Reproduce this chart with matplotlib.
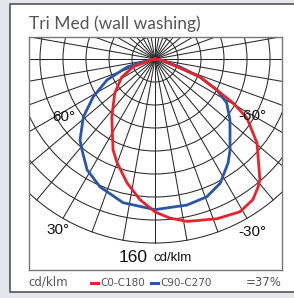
import numpy as np
import matplotlib
matplotlib.use("Agg")
import matplotlib.pyplot as plt
from matplotlib.patches import Circle, Rectangle

# ---- data (angle in degrees: positive = left side, negative = right side; value in cd/klm)
red_angles = [-90, -80, -71.6, -68.2, -63.4, -60.6, -57.3, -50.5, -41, -38.8, -34.8, -29.1,
              -21.2, -11.2, -5.4, 0, 6.1, 12.7, 20.1, 24.8, 36.6, 49.6, 61.4, 70, 72, 90]
red_values = [0, 7, 16.5, 42, 60, 78, 95, 115, 139, 143, 149, 152,
              149, 144, 139, 133, 123, 110.5, 96, 87, 63, 46, 33, 20, 7, 0]

blue_angles = [90, 76, 74, 66.4, 58.5, 51.1, 42.8, 38.7, 31.5, 23.3, 12.5, 0,
               -12.4, -20.6, -27.7, -35.1, -39.5, -50.9, -58.6, -63.4, -68.2, -72.3, -76, -90]
blue_values = [0, 10.8, 25, 45.6, 63, 80, 96, 101.5, 113, 121, 128, 131,
               130, 128, 122, 110.5, 102.6, 84, 73, 60, 42, 23, 7, 0]

ring_values = [20, 40, 60, 80, 100, 120, 140, 160]
spoke_angles = list(range(0, 360, 10))
angle_labels = ["60°", "-60°", "30°", "-30°"]
angle_label_pos = [(-79.6, -50.4), (84.3, -49.6), (-84.8, -148.7), (84.8, -150.0)]

title = "Tri Med (wall washing)"
legend_labels = ["C0-C180", "C90-C270"]
legend_colors = ["#e8232b", "#2b55a6"]
efficiency = "=37%"
unit = "cd/klm"
scale_text = "160"

W, H = 294, 298
fig = plt.figure(figsize=(W / 100, H / 100), dpi=100)
fig.patch.set_facecolor("#e5e5ee")

def fx(x):
    return x / W

def fy(y):
    return 1 - y / H

# white panel
fig.patches.append(Rectangle((fx(10), fy(292)), 1.0, (292 - 4) / H, transform=fig.transFigure,
                             facecolor="white", edgecolor="#555555", lw=1.2, zorder=-5))

# polar diagram axes (pixel box 29..282 x 37..270, centre at (155,59), 1.15 px per cd/klm)
s = 1.15
cx, cy = 155, 59
L, R, T, B = 29, 282, 37, 270
ax = fig.add_axes([fx(L), fy(B), (R - L) / W, (B - T) / H])
ax.set_zorder(2)
ax.set_xlim((L - cx) / s, (R - cx) / s)
ax.set_ylim((cy - B) / s, (cy - T) / s)
ax.set_facecolor("white")
ax.set_xticks([])
ax.set_yticks([])
for sp in ax.spines.values():
    sp.set_color("#777777")
    sp.set_linewidth(1.0)

gcol = "#2a2a2a"
for rv in ring_values:
    ax.add_patch(Circle((0, 0), rv, fill=False, edgecolor=gcol, lw=0.75, zorder=1))
rmax = ring_values[-1]
for a in spoke_angles:
    t = np.deg2rad(a)
    ax.plot([0, -rmax * np.sin(t)], [0, -rmax * np.cos(t)], color=gcol, lw=0.75, zorder=1)

def to_xy(angles, values):
    t = np.deg2rad(np.array(angles, dtype=float))
    v = np.array(values, dtype=float)
    return -v * np.sin(t), -v * np.cos(t)

bx, by = to_xy(blue_angles, blue_values)
ax.plot(bx, by, color=legend_colors[1], lw=2.0, zorder=3, solid_joinstyle="round")
rx, ry = to_xy(red_angles, red_values)
ax.plot(rx, ry, color=legend_colors[0], lw=2.0, zorder=4, solid_joinstyle="round")

for lab, (lx, ly) in zip(angle_labels, angle_label_pos):
    ax.text(lx, ly, lab, ha="center", va="center", fontsize=11, color="#111111",
            family="Liberation Sans", zorder=5)

# scale text
fig.text(fx(148), fy(257), scale_text, ha="right", va="center", fontsize=12.5,
         color="#111111", family="Liberation Sans", zorder=6)
fig.text(fx(154), fy(258), unit, ha="left", va="center", fontsize=9.5,
         color="#111111", family="Liberation Sans", zorder=6)

# title
fig.text(fx(29), fy(24), title, ha="left", va="center", fontsize=12.5,
         color="#555555", family="Lato")

# bottom row
tcol = "#555555"
fig.text(fx(28), fy(282), unit, ha="left", va="center", fontsize=8.5, color=tcol,
         family="DejaVu Sans")
fig.add_artist(plt.Line2D([fx(91), fx(98)], [fy(283), fy(283)], color=legend_colors[0], lw=2.2))
fig.text(fx(100), fy(282.5), legend_labels[0], ha="left", va="center", fontsize=7.5,
         color=tcol, family="DejaVu Sans")
fig.add_artist(plt.Line2D([fx(151), fx(158)], [fy(283), fy(283)], color=legend_colors[1], lw=2.2))
fig.text(fx(160), fy(282.5), legend_labels[1], ha="left", va="center", fontsize=7.5,
         color=tcol, family="DejaVu Sans")
fig.text(fx(282), fy(282), efficiency, ha="right", va="center", fontsize=8.5, color=tcol,
         family="DejaVu Sans")

fig.savefig("out.png", dpi=100, facecolor=fig.get_facecolor())
